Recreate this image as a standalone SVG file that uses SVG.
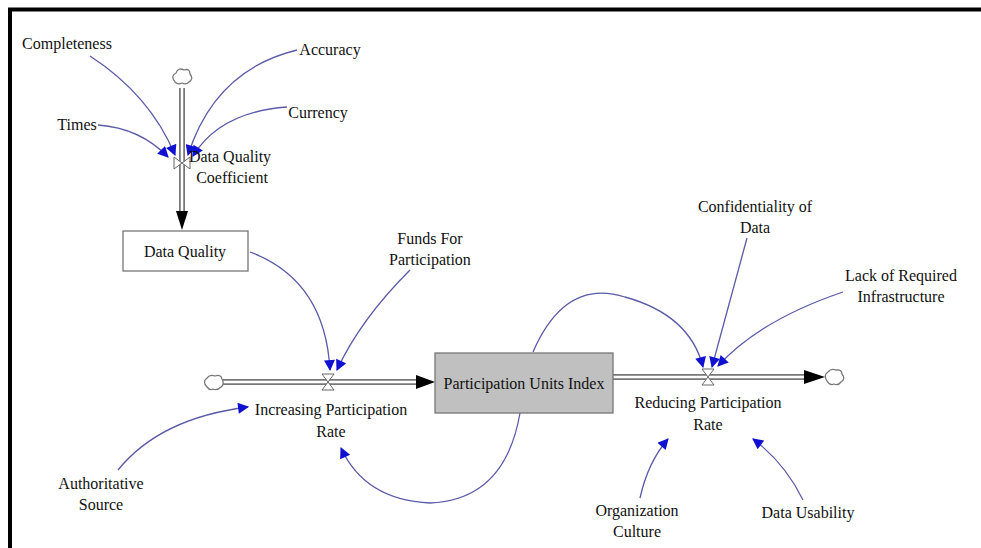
<svg xmlns="http://www.w3.org/2000/svg" width="981" height="548" viewBox="0 0 981 548">
<style>
text{font-family:"Liberation Serif","Times New Roman",serif;font-size:16px;fill:#111;text-anchor:middle}
.pipeo{stroke:#777;stroke-width:6;fill:none}
.pipei{stroke:#fff;stroke-width:2.5;fill:none}
.link{stroke:#5a5aa8;stroke-width:1.3;fill:none;marker-end:url(#ah)}
.cloud{fill:#fff;stroke:#777;stroke-width:1.3}
.valve{fill:#fff;stroke:#666;stroke-width:1}
.fh{fill:#000}
</style>
<defs>
<marker id="ah" viewBox="0 0 10 10" refX="9" refY="5" markerWidth="14" markerHeight="11" markerUnits="userSpaceOnUse" orient="auto"><path d="M0,0 L10,5 L0,10 z" fill="#1010d0"/></marker>
</defs>
<rect width="981" height="548" fill="#fff"/>
<path d="M10,548 V9.5 H981" fill="none" stroke="#000" stroke-width="4"/>

<g id="connectors">
<path class="pipeo" d="M182,88 V212"/><path class="pipei" d="M182,88 V213"/>
<path class="fh" d="M176,211 L188,211 L182,230 z"/>
<path class="pipeo" d="M223,382 H417"/><path class="pipei" d="M223,382 H418"/>
<path class="fh" d="M416,375 L435,382 L416,389 z"/>
<path class="pipeo" d="M613,377 H805"/><path class="pipei" d="M613,377 H806"/>
<path class="fh" d="M804,370 L825,377 L804,384 z"/>
<path class="link" d="M90,56 Q150,95 175,155"/>
<path class="link" d="M297,50 Q215,70 188,155"/>
<path class="link" d="M287,107 Q220,112 193,156"/>
<path class="link" d="M98,125 Q140,128 168,157"/>
<path class="link" d="M250,252 Q325,280 330,370"/>
<path class="link" d="M410,270 Q360,320 337,370"/>
<path class="link" d="M118,470 Q160,418 248,407"/>
<path class="link" d="M520,413 Q505,500 430,503 Q365,500 341,448"/>
<path class="link" d="M533,352 Q565,278 625,297 Q690,315 703,367"/>
<path class="link" d="M747,238 L712,367"/>
<path class="link" d="M843,292 Q760,320 718,366"/>
<path class="link" d="M640,498 Q648,462 668,439"/>
<path class="link" d="M803,500 Q785,463 753,439"/>
</g>

<g id="dq-source"><path class="cloud" d="M175,82 q-5,-6 1,-9 q2,-6 8,-3 q6,-2 6,4 q4,5 -1,8 q-3,3 -7,1 q-4,2 -7,-1 z"/></g>
<g id="inc-source"><path class="cloud" d="M207,387 q-5,-5 0,-9 q3,-4 8,-2 q6,-2 7,3 q3,5 -1,8 q-4,4 -8,2 q-3,2 -6,-2 z"/></g>
<g id="red-sink"><path class="cloud" d="M827,381 q-4,-6 1,-9 q3,-4 8,-2 q6,-1 6,4 q4,5 -1,8 q-3,4 -7,2 q-4,2 -7,-3 z"/></g>

<g id="data-quality-coefficient">
<path class="valve" d="M174,157 L190,169 L190,157 L174,169 z" stroke="#6a7a30"/>
<text x="230" y="162">Data Quality</text>
<text x="232" y="183">Coefficient</text>
</g>
<g id="increasing-participation-rate">
<path class="valve" d="M322,374 L334,390 L322,390 L334,374 z"/>
<text x="331" y="415">Increasing Participation</text>
<text x="331" y="437">Rate</text>
</g>
<g id="reducing-participation-rate">
<path class="valve" d="M702,369 L714,385 L702,385 L714,369 z"/>
<text x="708" y="408">Reducing Participation</text>
<text x="708" y="430">Rate</text>
</g>
<g id="data-quality">
<rect x="123" y="231" width="125" height="40" fill="#fff" stroke="#777" stroke-width="1.3"/>
<text x="185" y="257">Data Quality</text>
</g>
<g id="participation-units-index">
<rect x="435" y="353" width="178" height="60" fill="#c0c0c0" stroke="#777" stroke-width="1.3"/>
<text x="524" y="389">Participation Units Index</text>
</g>
<g id="completeness"><text x="67" y="49">Completeness</text></g>
<g id="accuracy"><text x="330" y="55">Accuracy</text></g>
<g id="currency"><text x="318" y="118">Currency</text></g>
<g id="times"><text x="77" y="130">Times</text></g>
<g id="funds-for-participation"><text x="430" y="244">Funds For</text><text x="430" y="265">Participation</text></g>
<g id="confidentiality-of-data"><text x="755" y="212">Confidentiality of</text><text x="755" y="233">Data</text></g>
<g id="lack-of-required-infrastructure"><text x="901" y="281">Lack of Required</text><text x="901" y="302">Infrastructure</text></g>
<g id="authoritative-source"><text x="101" y="489">Authoritative</text><text x="101" y="510">Source</text></g>
<g id="organization-culture"><text x="637" y="516">Organization</text><text x="637" y="537">Culture</text></g>
<g id="data-usability"><text x="808" y="518">Data Usability</text></g>
</svg>
